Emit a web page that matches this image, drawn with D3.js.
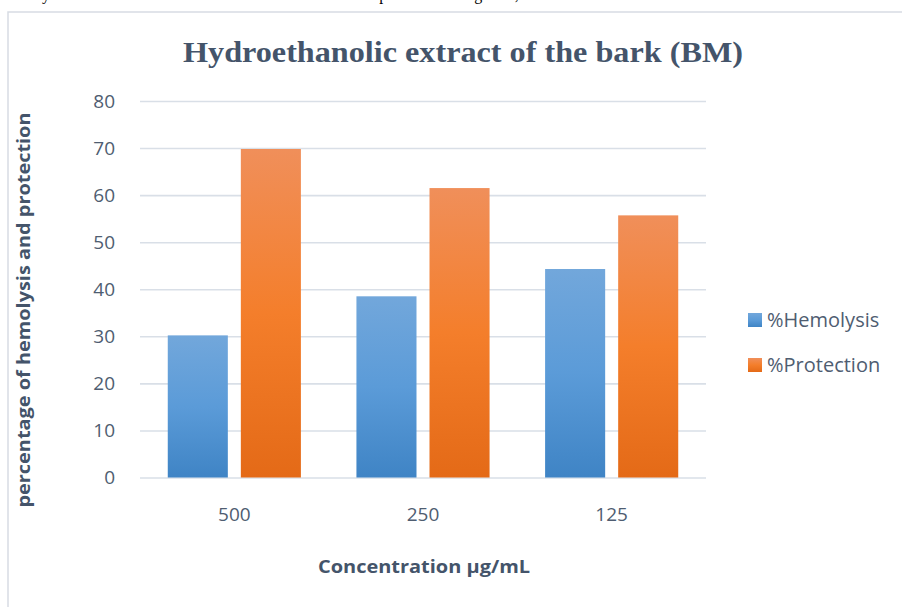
<!DOCTYPE html>
<html>
<head>
<meta charset="utf-8">
<script src="https://cdn.jsdelivr.net/npm/d3@7"></script>
<style>
  html, body { margin: 0; padding: 0; background: #fff; }
  svg { display: block; }
</style>
</head>
<body>
<svg id="chart" width="902" height="607"></svg>
<script>
// Concentrations tested (µg/mL) and the two measured percentages
const concentrations = ["500", "250", "125"];
const seriesNames = ["%Hemolysis", "%Protection"];
const hemolysis = [30.2, 38.5, 44.3];
const protection = [69.8, 61.5, 55.7];
const yTicks = [0, 10, 20, 30, 40, 50, 60, 70, 80];

const chartTitle = "Hydroethanolic extract of the bark (BM)";
const xTitle = "Concentration µg/mL";
const yTitle = "percentage of hemolysis and protection";

const svg = d3.select("#chart");
const textColor = "#4f5d71";
const titleColor = "#44546a";
const gridColor = "#d9dfe7";

// gradient fills for the bars
const defs = svg.append("defs");
const gradients = [
  { id: "gHem", stops: ["#72a7db", "#5b9bd8", "#3f84c5"] },
  { id: "gPro", stops: ["#f08f5a", "#f47e2b", "#e46a17"] }
];
gradients.forEach(g => {
  const lg = defs.append("linearGradient")
    .attr("id", g.id).attr("x1", 0).attr("y1", 0).attr("x2", 0).attr("y2", 1);
  lg.append("stop").attr("offset", "0%").attr("stop-color", g.stops[0]);
  lg.append("stop").attr("offset", "50%").attr("stop-color", g.stops[1]);
  lg.append("stop").attr("offset", "100%").attr("stop-color", g.stops[2]);
});

// surrounding text line of the page, running above the chart frame
svg.append("text")
  .attr("x", 2).attr("y", 0)
  .attr("font-family", "'Liberation Serif', 'Times New Roman', serif")
  .attr("font-size", 16).attr("fill", "#000")
  .text("activity of the extracts on the red blood cell membrane are presented in Figure 6, which shows");

// chart frame (left and top edges)
svg.append("path")
  .attr("d", "M8,607 V12 H902")
  .attr("fill", "none").attr("stroke", "#d7dce3").attr("stroke-width", 1.5);

// scales
const y = d3.scaleLinear().domain([0, 80]).range([477.5, 101]);
const x0 = d3.scaleBand().domain(concentrations).range([140, 706]).padding(0);
const x1 = d3.scaleBand().domain(seriesNames).range([0, x0.bandwidth()])
  .paddingInner(0.178).paddingOuter(0.38);

// y tick labels
const yAxis = d3.axisLeft(y).tickValues(yTicks).tickSize(0).tickPadding(0);
const gy = svg.append("g").attr("transform", "translate(115,0)").call(yAxis);
gy.select(".domain").remove();
gy.selectAll("text")
  .attr("font-family", "'Open Sans', sans-serif")
  .attr("font-size", 19).attr("fill", textColor);

// horizontal gridlines
const grid = d3.axisLeft(y).tickValues(yTicks).tickSize(-(706 - 140)).tickFormat("");
const gg = svg.append("g").attr("transform", "translate(140,0)").call(grid);
gg.select(".domain").remove();
gg.selectAll("line").attr("stroke", gridColor).attr("stroke-width", 1.6);

// bars
const rows = concentrations.map((c, i) => ({
  c, values: [
    { key: seriesNames[0], v: hemolysis[i], fill: "url(#gHem)" },
    { key: seriesNames[1], v: protection[i], fill: "url(#gPro)" }
  ]
}));
const groups = svg.append("g").selectAll("g").data(rows).join("g")
  .attr("transform", d => `translate(${x0(d.c)},0)`);
groups.selectAll("rect").data(d => d.values).join("rect")
  .attr("x", d => x1(d.key))
  .attr("width", x1.bandwidth())
  .attr("y", d => y(d.v))
  .attr("height", d => y(0) - y(d.v))
  .attr("fill", d => d.fill);

// x category labels
const xAxis = d3.axisBottom(x0).tickSize(0).tickPadding(0);
const gx = svg.append("g").attr("transform", "translate(0,507)").call(xAxis);
gx.select(".domain").remove();
gx.selectAll("text")
  .attr("font-family", "'Open Sans', sans-serif")
  .attr("font-size", 19).attr("fill", textColor);

// title
svg.append("text")
  .attr("x", 463).attr("y", 62)
  .attr("text-anchor", "middle")
  .attr("font-family", "'Liberation Serif', 'Times New Roman', serif")
  .attr("font-weight", "bold").attr("font-size", 29)
  .attr("fill", titleColor)
  .attr("textLength", 560).attr("lengthAdjust", "spacingAndGlyphs")
  .text(chartTitle);

// axis titles
svg.append("text")
  .attr("x", 424).attr("y", 573)
  .attr("text-anchor", "middle")
  .attr("font-family", "'Open Sans', sans-serif")
  .attr("font-weight", "bold").attr("font-size", 18)
  .attr("fill", titleColor)
  .attr("textLength", 212).attr("lengthAdjust", "spacingAndGlyphs")
  .text(xTitle);

svg.append("text")
  .attr("transform", "translate(30,310) rotate(-90)")
  .attr("text-anchor", "middle")
  .attr("font-family", "'Open Sans', sans-serif")
  .attr("font-weight", "bold").attr("font-size", 18)
  .attr("fill", titleColor)
  .attr("textLength", 395).attr("lengthAdjust", "spacingAndGlyphs")
  .text(yTitle);

// legend
const legend = svg.append("g").selectAll("g").data(seriesNames).join("g")
  .attr("transform", (d, i) => `translate(748,${313 + i * 45})`);
legend.append("rect")
  .attr("width", 14).attr("height", 14)
  .attr("fill", (d, i) => i === 0 ? "url(#gHem)" : "url(#gPro)");
legend.append("text")
  .attr("x", 19).attr("y", 7).attr("dy", "0.35em")
  .attr("font-family", "'Open Sans', sans-serif")
  .attr("font-size", 20).attr("fill", textColor)
  .text(d => d);
</script>
</body>
</html>
